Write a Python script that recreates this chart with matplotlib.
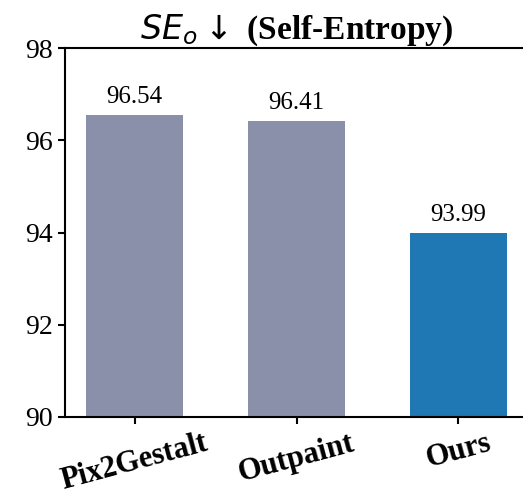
import matplotlib
matplotlib.use("Agg")
import matplotlib.pyplot as plt

categories = ["Pix2Gestalt", "Outpaint", "Ours"]
values = [96.54, 96.41, 93.99]
colors = ["#8b90aa", "#8b90aa", "#1f77b4"]
yticks = [90, 92, 94, 96, 98]

plt.rcParams['font.family'] = ['Liberation Serif', 'DejaVu Sans']
plt.rcParams['mathtext.fontset'] = 'dejavusans'

fig = plt.figure(figsize=(5.23, 4.96), dpi=100)
ax = fig.add_axes([65/523, 79/496, 463/523, 369/496])
x = list(range(len(categories)))
bars = ax.bar(x, values, width=0.6, color=colors)
for xi, v in zip(x, values):
    ax.text(xi, v + 0.15, f"{v:.2f}", ha='center', va='bottom', fontsize=18)
ax.set_ylim(90, 98)
ax.set_xlim(-0.43, 2.43)
ax.set_yticks(yticks)
ax.set_yticklabels([str(t) for t in yticks], fontsize=20)
ax.set_xticks(x)
ax.set_xticklabels(categories, fontsize=22, fontweight='bold', rotation=15)
for s in ax.spines.values():
    s.set_linewidth(1.5)
ax.tick_params(width=1.5, length=5)
ax.set_title(r"$SE_o\downarrow$ (Self-Entropy)", fontsize=24, fontweight='bold', pad=6)
fig.savefig("out.png", dpi=100)
